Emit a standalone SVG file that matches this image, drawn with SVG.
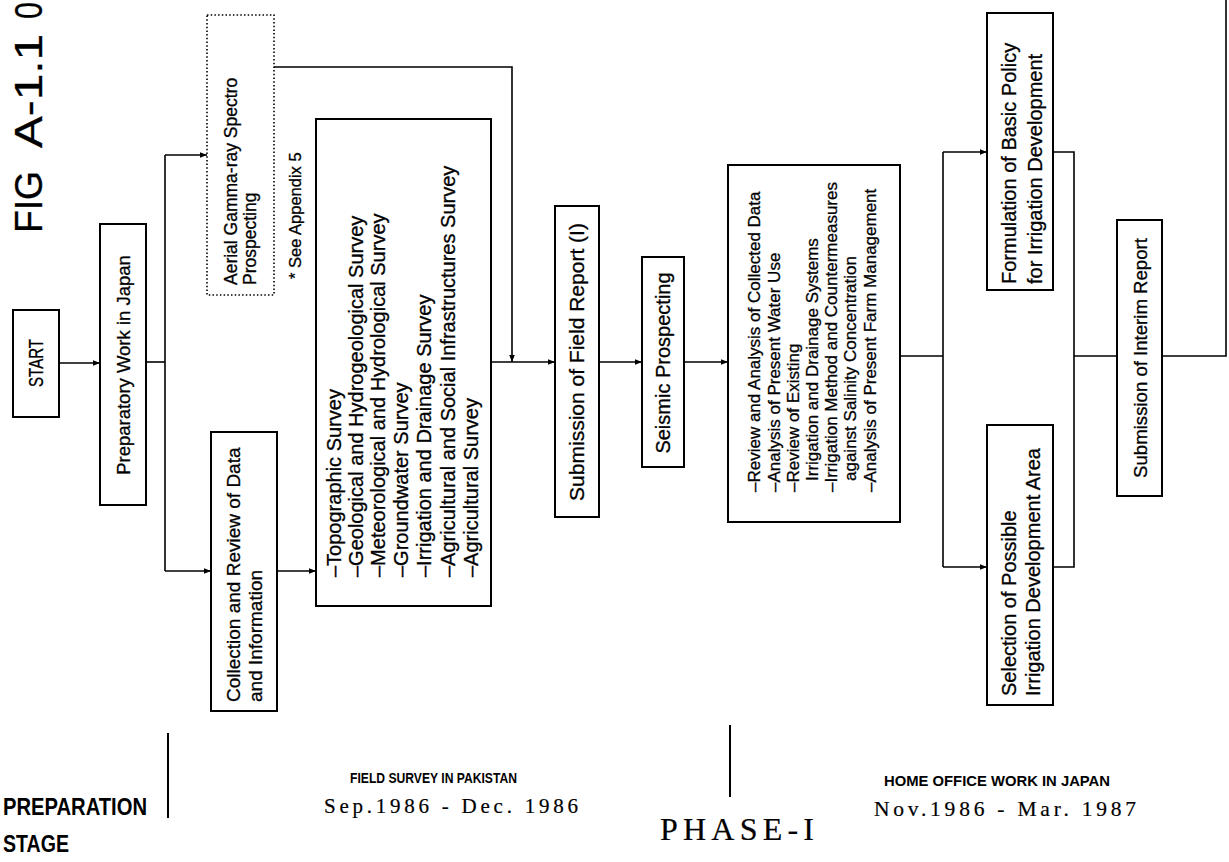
<svg xmlns="http://www.w3.org/2000/svg" width="1229" height="862" viewBox="0 0 1229 862">
<style>
.box{fill:#fff;stroke:#000;stroke-width:2}
.dot{fill:#fff;stroke:#000;stroke-width:1.6;stroke-dasharray:1.5 2.2}
.ln{fill:none;stroke:#000;stroke-width:1.6}
.dv{fill:none;stroke:#000;stroke-width:2}
text{font-family:"Liberation Sans",Arial,sans-serif;fill:#000;stroke:#000;stroke-width:0.3}
.b{font-weight:bold;stroke-width:0}
.s{font-family:"Liberation Serif","Times New Roman",serif;stroke-width:0.2}
.f20{font-size:20px}
.f17{font-size:17px}
</style>
<defs>
<marker id="ah" viewBox="0 0 10 10" refX="10" refY="5" markerWidth="7" markerHeight="7" markerUnits="userSpaceOnUse" orient="auto"><path d="M0,1 L10,5 L0,9 z" fill="#000"/></marker>
</defs>
<rect width="1229" height="862" fill="#fff"/>

<g id="title">
<text font-size="38" transform="translate(42,233) rotate(-90)" textLength="62" lengthAdjust="spacingAndGlyphs">FIG</text>
<text font-size="38" transform="translate(42,148) rotate(-90)" textLength="114" lengthAdjust="spacingAndGlyphs">A-1.1</text>
<text font-size="38" transform="translate(42,19) rotate(-90)" textLength="17" lengthAdjust="spacingAndGlyphs">0</text>
</g>

<g id="connectors">
<path class="ln" d="M59,363 H100" marker-end="url(#ah)"/>
<path class="ln" d="M146,362 H165"/>
<path class="ln" d="M165,155 V571"/>
<path class="ln" d="M165,155 H207" marker-end="url(#ah)"/>
<path class="ln" d="M165,571 H211" marker-end="url(#ah)"/>
<path class="ln" d="M277,571 H316" marker-end="url(#ah)"/>
<path class="ln" d="M274,67 H512 V362" marker-end="url(#ah)"/>
<path class="ln" d="M491,362 H555" marker-end="url(#ah)"/>
<path class="ln" d="M599,362 H642" marker-end="url(#ah)"/>
<path class="ln" d="M684,362 H728" marker-end="url(#ah)"/>
<path class="ln" d="M900,356 H943"/>
<path class="ln" d="M943,152 V567"/>
<path class="ln" d="M943,152 H987" marker-end="url(#ah)"/>
<path class="ln" d="M943,567 H987" marker-end="url(#ah)"/>
<path class="ln" d="M1053,152 H1074 V567 H1053"/>
<path class="ln" d="M1074,356 H1117"/>
<path class="ln" d="M1162,356 H1226 V0"/>
</g>

<g id="start">
<rect class="box" x="13" y="310" width="46" height="107"/>
<text font-size="20" text-anchor="middle" transform="translate(43,363) rotate(-90)" textLength="48" lengthAdjust="spacingAndGlyphs">START</text>
</g>

<g id="preparatory">
<rect class="box" x="100" y="224" width="46" height="281"/>
<text font-size="18.5" text-anchor="middle" transform="translate(130,365) rotate(-90)">Preparatory Work in Japan</text>
</g>

<g id="aerial">
<rect class="dot" x="207" y="15" width="67" height="280"/>
<text font-size="17.5" transform="translate(237,285) rotate(-90)">Aerial Gamma-ray Spectro</text>
<text font-size="17.5" transform="translate(256,285) rotate(-90)">Prospecting</text>
</g>

<g id="note">
<text font-size="16.5" transform="translate(301,279) rotate(-90)">* See Appendix 5</text>
</g>

<g id="collection">
<rect class="box" x="211" y="432" width="66" height="279"/>
<text font-size="19" transform="translate(240,702) rotate(-90)">Collection and Review of Data</text>
<text font-size="19" transform="translate(262,702) rotate(-90)">and Information</text>
</g>

<g id="field-survey">
<rect class="box" x="316" y="119" width="175" height="487"/>
<text class="f20" transform="translate(341,577) rotate(-90)">–Topographic Survey</text>
<text class="f20" transform="translate(363,577) rotate(-90)">–Geological and Hydrogeological Survey</text>
<text class="f20" transform="translate(385,577) rotate(-90)">–Meteorological and Hydrological Survey</text>
<text class="f20" transform="translate(408,577) rotate(-90)">–Groundwater Survey</text>
<text class="f20" transform="translate(431,577) rotate(-90)">–Irrigation and Drainage Survey</text>
<text class="f20" transform="translate(455,577) rotate(-90)">–Agricultural and Social Infrastructures Survey</text>
<text class="f20" transform="translate(478,577) rotate(-90)">–Agricultural Survey</text>
</g>

<g id="submission-field-report">
<rect class="box" x="555" y="206" width="44" height="311"/>
<text font-size="21" text-anchor="middle" transform="translate(584,362) rotate(-90)">Submission of Field Report (I)</text>
</g>

<g id="seismic">
<rect class="box" x="642" y="257" width="42" height="210"/>
<text font-size="20" text-anchor="middle" transform="translate(670,363) rotate(-90)">Seismic Prospecting</text>
</g>

<g id="review">
<rect class="box" x="728" y="165" width="172" height="357"/>
<text class="f17" transform="translate(760,492) rotate(-90)">–Review and Analysis of Collected Data</text>
<text class="f17" transform="translate(780,492) rotate(-90)">–Analysis of Present Water Use</text>
<text class="f17" transform="translate(799,492) rotate(-90)">–Review of Existing</text>
<text class="f17" transform="translate(818,481) rotate(-90)">Irrigation and Drainage Systems</text>
<text class="f17" transform="translate(837,492) rotate(-90)">–Irrigation Method and Countermeasures</text>
<text class="f17" transform="translate(856,481) rotate(-90)">against Salinity Concentration</text>
<text class="f17" transform="translate(876,492) rotate(-90)">–Analysis of Present Farm Management</text>
</g>

<g id="formulation">
<rect class="box" x="987" y="13" width="66" height="277"/>
<text class="f20" transform="translate(1016,284) rotate(-90)">Formulation of Basic Policy</text>
<text class="f20" transform="translate(1042,284) rotate(-90)">for Irrigation Development</text>
</g>

<g id="selection">
<rect class="box" x="987" y="425" width="66" height="280"/>
<text class="f20" transform="translate(1016,696) rotate(-90)">Selection of Possible</text>
<text class="f20" transform="translate(1040,696) rotate(-90)">Irrigation Development Area</text>
</g>

<g id="interim">
<rect class="box" x="1117" y="220" width="45" height="276"/>
<text font-size="18.6" text-anchor="middle" transform="translate(1147,358) rotate(-90)">Submission of Interim Report</text>
</g>

<g id="phases">
<path class="dv" d="M168,733 V818"/>
<path class="dv" d="M730,725 V797"/>
<text class="b" font-size="24" x="3" y="815" textLength="144" lengthAdjust="spacingAndGlyphs">PREPARATION</text>
<text class="b" font-size="24" x="3" y="852" textLength="66" lengthAdjust="spacingAndGlyphs">STAGE</text>
<text class="b" font-size="15" x="350" y="783" textLength="167" lengthAdjust="spacingAndGlyphs">FIELD SURVEY IN PAKISTAN</text>
<text class="s" font-size="21" x="324" y="813" textLength="254" lengthAdjust="spacing">Sep.1986 - Dec. 1986</text>
<text class="s" font-size="32" x="660" y="840" textLength="154" lengthAdjust="spacing">PHASE-I</text>
<text class="b" font-size="15" x="884" y="786" textLength="226" lengthAdjust="spacingAndGlyphs">HOME OFFICE WORK IN JAPAN</text>
<text class="s" font-size="21.5" x="874" y="816" textLength="262" lengthAdjust="spacing">Nov.1986 - Mar. 1987</text>
</g>
</svg>
